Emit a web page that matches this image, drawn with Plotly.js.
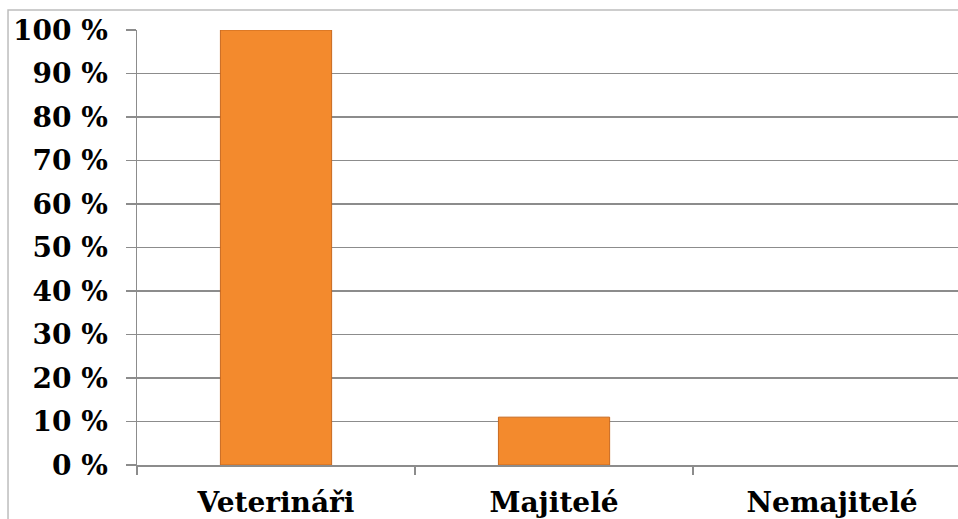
<!DOCTYPE html>
<html><head><meta charset="utf-8">
<script src="https://cdn.plot.ly/plotly-3.0.1.min.js"></script>
<style>html,body{margin:0;padding:0;background:#fff;}#chart{width:958px;height:519px;}</style>
</head><body><div id="chart"></div>
<script>
const categories = ['Veterináři', 'Majitelé', 'Nemajitelé'];
const values = [100, 11, 0];
const yTicks = [0, 10, 20, 30, 40, 50, 60, 70, 80, 90, 100];

const tickFont = {family: '"DejaVu Serif", serif', size: 28, color: '#000', weight: 'bold'};

const trace = {
  type: 'bar',
  x: categories,
  y: values,
  width: 0.4,
  marker: {
    color: '#F38A2D',
    line: {color: '#C8691F', width: values.map(v => v > 0 ? 1 : 0)}
  },
  hoverinfo: 'skip'
};

const layout = {
  width: 958, height: 519,
  margin: {l: 137, r: 0, t: 30, b: 54},
  paper_bgcolor: '#fff', plot_bgcolor: '#fff',
  showlegend: false,
  font: tickFont,
  xaxis: {
    type: 'category',
    range: [-0.5, 2.453],
    tickson: 'boundaries',
    ticks: 'outside', ticklen: 8, tickwidth: 1.5, tickcolor: '#8C8C8C',
    showline: true, linecolor: '#8C8C8C', linewidth: 1.5,
    showgrid: false,
    tickfont: tickFont,
    ticklabelstandoff: 12,
    fixedrange: true
  },
  yaxis: {
    range: [0, 100],
    tickvals: yTicks,
    ticktext: yTicks.map(v => v + ' %'),
    ticks: 'outside', ticklen: 10, tickwidth: 1.5, tickcolor: '#8C8C8C',
    showline: true, linecolor: '#8C8C8C', linewidth: 1.5,
    showgrid: true, gridcolor: '#8C8C8C', gridwidth: 1.5,
    zeroline: false,
    tickfont: tickFont,
    ticklabelstandoff: 12,
    fixedrange: true
  },
  shapes: [{
    type: 'rect', xref: 'paper', yref: 'paper',
    x0: -0.1571, x1: 1.05, y0: -0.3, y1: 1.046,
    line: {color: '#BDBDBD', width: 1.5}, layer: 'below'
  }]
};

Plotly.newPlot('chart', [trace], layout, {displayModeBar: false, staticPlot: true});
</script>
</body></html>
